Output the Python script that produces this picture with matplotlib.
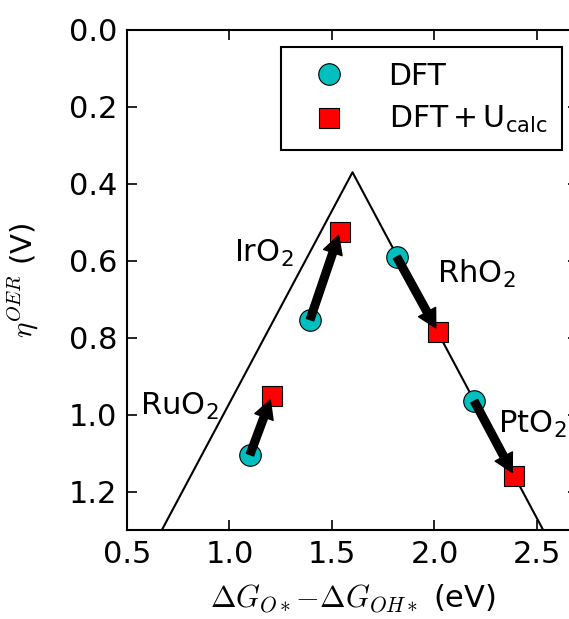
import matplotlib
matplotlib.use('Agg')
import matplotlib.pyplot as plt

plt.rcParams['mathtext.fontset'] = 'cm'
plt.rcParams['font.family'] = ['DejaVu Sans']

# data
materials = ['RuO$_\\mathregular{2}$', 'IrO$_\\mathregular{2}$',
             'RhO$_\\mathregular{2}$', 'PtO$_\\mathregular{2}$']
dft_x = [1.100, 1.393, 1.816, 2.194]
dft_eta = [1.104, 0.753, 0.590, 0.965]
dftu_x = [1.206, 1.539, 2.016, 2.389]
dftu_eta = [0.952, 0.524, 0.784, 1.160]

# volcano (limiting potential) line
volcano_x = [0.5, 1.6, 2.7]
volcano_eta = [1.47, 0.37, 1.47]

xticks = [0.5, 1.0, 1.5, 2.0, 2.5]
yticks = [0.0, 0.2, 0.4, 0.6, 0.8, 1.0, 1.2]

fig = plt.figure(figsize=(5.69, 6.19), dpi=100)
ax = fig.add_axes([0.2232, 0.1438, 0.7926, 0.8078])

ax.plot(volcano_x, volcano_eta, color='black', lw=1.5, zorder=1)

ax.plot(dft_x, dft_eta, 'o', color=(0, 0.75, 0.75), mec='black', mew=0.8,
        ms=15.5, label='DFT', zorder=2)
ax.plot(dftu_x, dftu_eta, 's', color='red', mec='black', mew=0.8,
        ms=14.5, label='$\\mathregular{DFT+U_{calc}}$', zorder=2)

# arrows from DFT to DFT+U
for x0, y0, x1, y1 in zip(dft_x, dft_eta, dftu_x, dftu_eta):
    ax.annotate('', xy=(x1, y1), xytext=(x0, y0),
                arrowprops=dict(arrowstyle='simple,head_length=13,head_width=14,tail_width=5.5',
                                mutation_scale=1, fc='black', ec='black',
                                shrinkA=0, shrinkB=3), zorder=3)

# material labels
label_pos = [(0.565, 1.0), (1.02, 0.602), (2.011, 0.658), (2.311, 1.048)]
for name, (lx, ly) in zip(materials, label_pos):
    ax.text(lx, ly, name, fontsize=22, ha='left', va='baseline')

ax.set_xlim(0.5, 2.7)
ax.set_ylim(1.3, 0.0)
ax.set_xticks(xticks)
ax.set_yticks(yticks)
ax.tick_params(direction='in', length=7, width=1.2, labelsize=22,
               top=True, right=True, pad=7)
for s in ax.spines.values():
    s.set_linewidth(1.5)

ax.set_xlabel('$\\Delta G_{O*}{-}\\Delta G_{OH*}$ (eV)', fontsize=22)
ax.set_ylabel('$\\eta^{OER}$ (V)', fontsize=21)
ax.xaxis.set_label_coords(0.50, -0.105)
ax.yaxis.set_label_coords(-0.19, 0.5)

leg = ax.legend(loc='upper right', bbox_to_anchor=(0.9645, 0.966),
                borderaxespad=0, numpoints=1, fontsize=21.5, fancybox=False,
                framealpha=1, edgecolor='black', borderpad=0.5,
                handlelength=2.2, handletextpad=0.9, labelspacing=0.45)
leg.get_frame().set_linewidth(1.5)

fig.savefig('out.png', dpi=100)
